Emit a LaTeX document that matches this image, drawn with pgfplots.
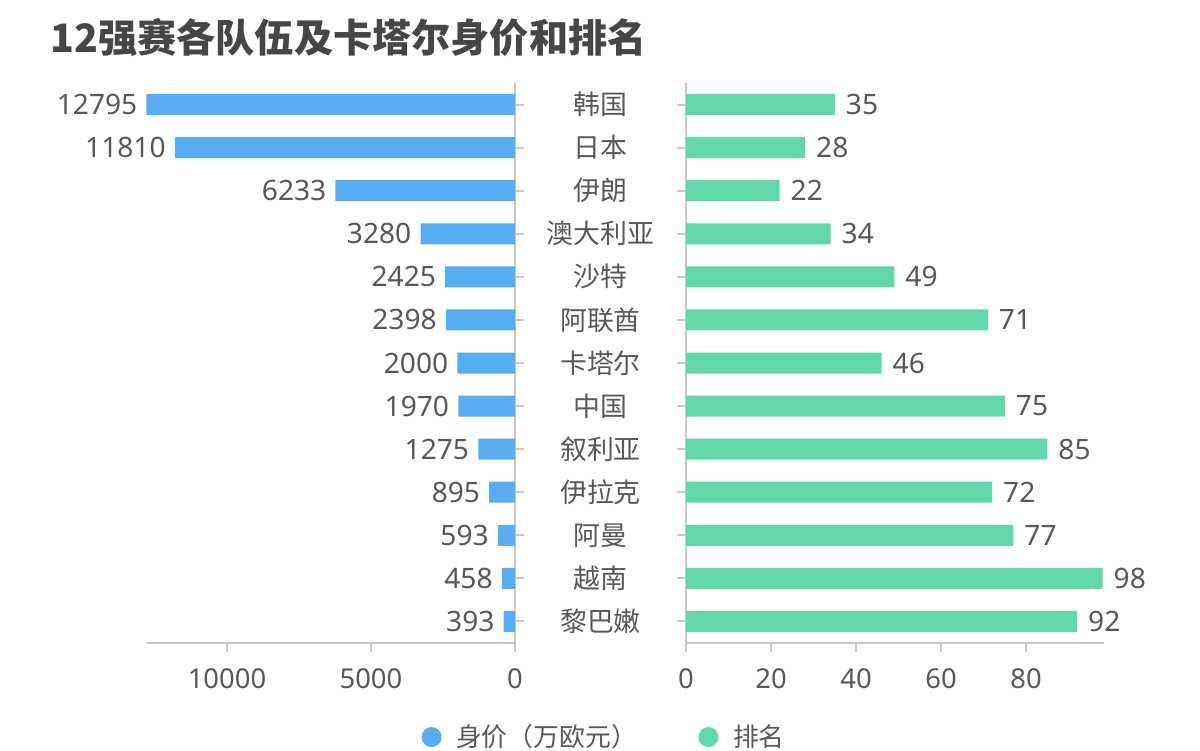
\documentclass[border=0pt]{standalone}
\usepackage{pgfplots}
\pgfplotsset{compat=1.18}
\usepackage{pgfplotstable}
\usepackage{fontspec}
\setmainfont{Noto Sans CJK SC}
\newfontfamily\numfont{Noto Sans}
\definecolor{cblue}{RGB}{88,172,242}
\definecolor{cgreen}{RGB}{98,216,170}
\definecolor{txt}{RGB}{88,88,88}
\definecolor{titlegray}{RGB}{70,70,70}
\definecolor{axisgray}{RGB}{200,200,200}
\pgfplotstableread{
y value rank
12 12795 35
11 11810 28
10 6233 22
9 3280 34
8 2425 49
7 2398 71
6 2000 46
5 1970 75
4 1275 85
3 895 72
2 593 77
1 458 98
0 393 92
}\data
\pgfplotsset{
  common/.style={
    scale only axis, height=11.2cm, anchor=south west,
    xbar, bar width=0.42cm, bar shift=0pt,
    ymin=-0.5, ymax=12.5, ytick={0,...,12},
    axis x line*=bottom,
    axis line style={axisgray, line width=0.04cm},
    tick align=outside, major tick length=0.18cm,
    tick style={axisgray, line width=0.04cm},
    scaled x ticks=false,
    ticklabel style={font=\fontsize{15.3}{18}\selectfont, text=txt},
    xticklabel style={font=\numfont\fontsize{15.6}{18}\selectfont, yshift=-0.2cm},
    /pgf/number format/.cd, 1000 sep={}, assume math mode=true,
  },
}
\begin{document}
\begin{tikzpicture}
\useasboundingbox (0,0) rectangle (24,15);
\node[anchor=west, font=\bfseries\fontsize{22.3}{25}\selectfont, text=titlegray, inner sep=0pt] at (1.0,14.26) {12强赛各队伍及卡塔尔身价和排名};
\begin{axis}[common,
  at={(2.92cm,2.14cm)}, width=7.38cm,
  x dir=reverse, xmin=0, xmax=12812,
  axis y line*=right,
  xtick={0,5000,10000}, yticklabels={},
  nodes near coords={\pgfmathprintnumber[fixed,precision=0,1000 sep={}]{\pgfplotspointmeta}},
  every node near coord/.append style={anchor=east, xshift=-0.06cm, text=txt, font=\numfont\fontsize{16}{18}\selectfont},
]
\addplot[fill=cblue, draw=none] table[x=value, y=y] {\data};
\end{axis}
\begin{axis}[common,
  at={(13.72cm,2.14cm)}, width=8.36cm,
  xmin=0, xmax=98.35,
  axis y line*=left,
  xtick={0,20,40,60,80},
  yticklabels={黎巴嫩,越南,阿曼,伊拉克,叙利亚,中国,卡塔尔,阿联酋,沙特,澳大利亚,伊朗,日本,韩国},
  yticklabel style={anchor=center, xshift=-1.53cm},
  nodes near coords={\pgfmathprintnumber[fixed,precision=0]{\pgfplotspointmeta}},
  every node near coord/.append style={anchor=west, xshift=0.1cm, text=txt, font=\numfont\fontsize{16}{18}\selectfont},
  legend columns=2,
  legend style={at={(-0.194,-0.168)}, anchor=center, draw=none, fill=none,
    font=\fontsize{14.7}{17}\selectfont, text=txt,
    /tikz/every even column/.append style={column sep=1.16cm}},
]
\addlegendimage{legend image code/.code={\path[draw=none,fill=none] (-0.2cm,0) -- (0.42cm,0); \fill[cblue, draw=none] (0cm,0cm) circle (0.2cm);}}
\addlegendentry{身价（万欧元）}
\addlegendimage{legend image code/.code={\path[draw=none,fill=none] (-0.2cm,0) -- (0.42cm,0); \fill[cgreen, draw=none] (0cm,0cm) circle (0.2cm);}}
\addlegendentry{排名}
\addplot[fill=cgreen, draw=none, forget plot] table[x=rank, y=y] {\data};
\end{axis}
\end{tikzpicture}
\end{document}
